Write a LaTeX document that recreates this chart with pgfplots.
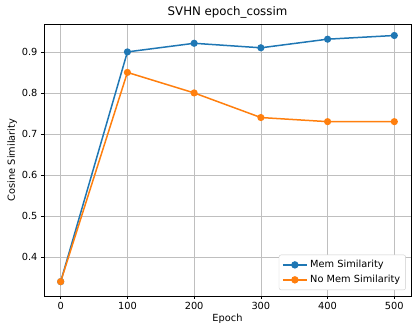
\documentclass[border=0pt]{standalone}
\usepackage{pgfplots}
\pgfplotsset{compat=1.18}
\usepackage{fontspec}
\setmainfont{DejaVu Sans}
\definecolor{tabblue}{HTML}{1F77B4}
\definecolor{taborange}{HTML}{FF7F0E}
\begin{document}
\begin{tikzpicture}[x=1pt,y=1pt]
\begin{axis}[
  at={(0,0)}, anchor=south west,
  scale only axis, width=367pt, height=272pt,
  xmin=-25, xmax=525, ymin=0.305, ymax=0.968,
  xtick={0,100,200,300,400,500},
  ytick={0.4,0.5,0.6,0.7,0.8,0.9},
  yticklabel style={/pgf/number format/.cd,fixed,precision=1},
  /pgf/number format/assume math mode=true,
  tick align=outside, tick pos=left,
  major tick length=3pt,
  every tick/.style={black, line width=0.6pt},
  grid=major,
  major grid style={color=black!25, line width=0.6pt},
  axis line style={line width=0.6pt},
  ticklabel style={font=\fontsize{9.8}{11}\selectfont},
  xlabel={Epoch}, ylabel={Cosine Similarity},
  label style={font=\fontsize{9.8}{11}\selectfont},
  xlabel style={yshift=3pt},
  ylabel style={yshift=-2pt},
  title={SVHN epoch\_cossim},
  title style={font=\fontsize{11.8}{13}\selectfont, yshift=-4pt},
  legend style={font=\fontsize{9.8}{11}\selectfont, draw=black!20, rounded corners=2pt, at={(0.986,0.022)}, anchor=south east, row sep=1pt, inner sep=3pt,
    nodes={inner sep=2.5pt}},
  legend image code/.code={
    \draw[line width=1.7pt, mark repeat=2,mark phase=2] plot coordinates {(0pt,0pt) (12pt,0pt) (24pt,0pt)};},
  legend cell align=left,
]
\addplot[color=tabblue, line width=1.5pt, mark=*, mark size=2.8pt] coordinates {
 (0,0.34) (100,0.90) (200,0.921) (300,0.91) (400,0.931) (500,0.94)};
\addlegendentry{Mem Similarity}
\addplot[color=taborange, line width=1.5pt, mark=*, mark size=2.8pt] coordinates {
 (0,0.34) (100,0.85) (200,0.80) (300,0.74) (400,0.73) (500,0.73)};
\addlegendentry{No Mem Similarity}
\end{axis}
\pgfresetboundingbox
\path (-44pt,-38pt) rectangle (373pt,296pt);
\end{tikzpicture}
\end{document}
